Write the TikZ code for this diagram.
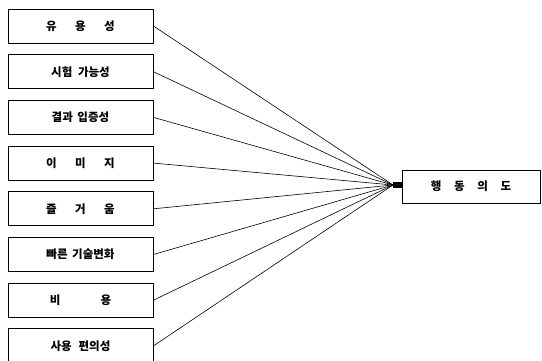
\documentclass[tikz,border=0pt]{standalone}
\usepackage{fontspec}
\newfontfamily\kr{Noto Sans CJK KR Black}
\begin{document}
\begin{tikzpicture}[x=1pt,y=1pt,
  leftbox/.style={draw=black, line width=0.9pt, minimum width=145pt, minimum height=34pt, inner sep=0pt, font=\kr\fontsize{11.5}{13}\selectfont},
  rightbox/.style={draw=black, line width=0.9pt, minimum width=138pt, minimum height=33pt, inner sep=0pt, font=\kr\fontsize{11.5}{13}\selectfont},
  link/.style={draw=black, line width=0.6pt}]
\useasboundingbox (0,0) rectangle (542,360);
\node[leftbox] (b1) at (80.5,334) {유\hspace{1.6em}용\hspace{1.6em}성};
\node[leftbox] (b2) at (80.5,288.3) {시험\hspace{0.5em}가능성};
\node[leftbox] (b3) at (80.5,242.6) {결과\hspace{0.4em}입증성};
\node[leftbox] (b4) at (80.5,196.9) {이\hspace{1.6em}미\hspace{1.6em}지};
\node[leftbox] (b5) at (80.5,151.2) {즐\hspace{1.6em}거\hspace{1.6em}움};
\node[leftbox] (b6) at (80.5,105.5) {빠른\hspace{0.4em}기술변화};
\node[leftbox] (b7) at (80.5,59.8) {비\hspace{3.5em}용};
\node[leftbox] (b8) at (80.5,14.1) {사용\hspace{0.6em}편의성};
\node[rightbox] (out) at (471,173.5) {행\hspace{1.1em}동\hspace{1.1em}의\hspace{1.1em}도};
\coordinate (conv) at (393,175);
\foreach \i in {1,...,8}{
  \draw[link] (b\i.east) -- (conv);
}
\draw[line width=6pt] (conv) -- (out.west |- conv);
\end{tikzpicture}
\end{document}
